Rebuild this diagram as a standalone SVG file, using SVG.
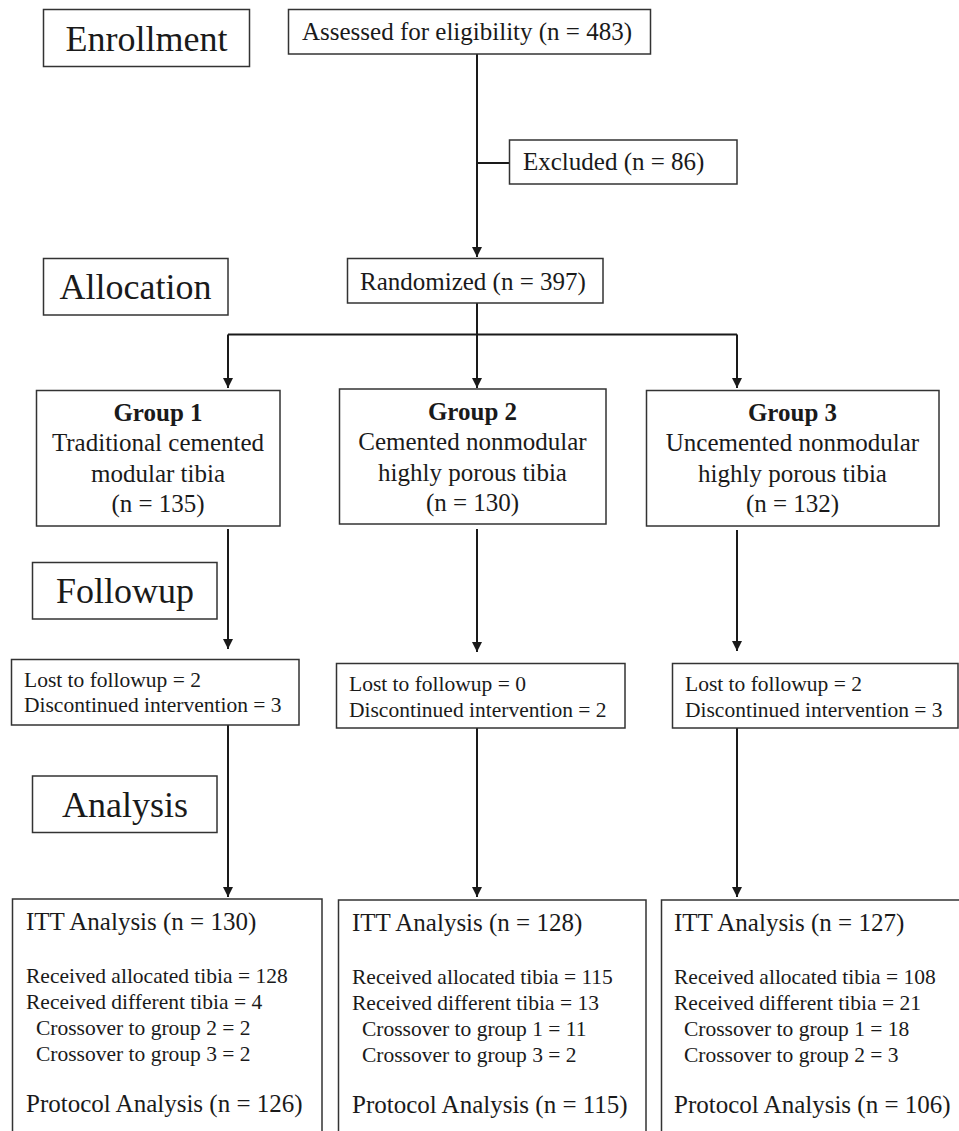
<svg xmlns="http://www.w3.org/2000/svg" width="959" height="1131" viewBox="0 0 959 1131">
<style>
.box{fill:#fff;stroke:#333;stroke-width:1.5}
.ln{fill:none;stroke:#1a1a1a;stroke-width:2}
text{font-family:"Liberation Serif","Times New Roman",serif;fill:#1a1a1a}
.big{font-size:36px}
.m{font-size:25px}
.s{font-size:21.5px}
.c{text-anchor:middle}
.b{font-weight:bold}
</style>
<defs>
<marker id="ah" markerWidth="10" markerHeight="10" refX="10" refY="5" orient="auto" markerUnits="userSpaceOnUse">
<path d="M0,0 L10,5 L0,10 Z" fill="#1a1a1a"/>
</marker>
</defs>
<rect width="959" height="1131" fill="#fff"/>
<g id="connectors">
<path class="ln" d="M477,54 V257" marker-end="url(#ah)"/>
<path class="ln" d="M477,163 H509"/>
<path class="ln" d="M477,303 V334.5"/>
<path class="ln" d="M228,334.5 H737"/>
<path class="ln" d="M228,334.5 V388" marker-end="url(#ah)"/>
<path class="ln" d="M477,334.5 V388" marker-end="url(#ah)"/>
<path class="ln" d="M737,334.5 V388" marker-end="url(#ah)"/>
<path class="ln" d="M228,529 V649" marker-end="url(#ah)"/>
<path class="ln" d="M477,529 V652" marker-end="url(#ah)"/>
<path class="ln" d="M737,530 V651" marker-end="url(#ah)"/>
<path class="ln" d="M228,725 V897" marker-end="url(#ah)"/>
<path class="ln" d="M477,728 V897" marker-end="url(#ah)"/>
<path class="ln" d="M737,728 V897" marker-end="url(#ah)"/>
</g>
<g id="enrollment"><rect class="box" x="43.5" y="9.5" width="206" height="57"/><text class="big c" x="146.5" y="51">Enrollment</text></g>
<g id="assessed"><rect class="box" x="288.5" y="9.5" width="362" height="44.5"/><text class="m" x="302" y="40">Assessed for eligibility (n = 483)</text></g>
<g id="excluded"><rect class="box" x="509.5" y="140" width="227.5" height="44"/><text class="m" x="523" y="170">Excluded (n = 86)</text></g>
<g id="allocation"><rect class="box" x="43.5" y="258.5" width="184.5" height="56.5"/><text class="big c" x="135.5" y="299">Allocation</text></g>
<g id="randomized"><rect class="box" x="347.5" y="258.5" width="255.5" height="44.5"/><text class="m" x="360" y="290">Randomized (n = 397)</text></g>
<g id="group1"><rect class="box" x="36.5" y="390.5" width="243.5" height="135.5"/>
<text class="m c b" x="158" y="421">Group 1</text>
<text class="m c" x="158" y="451">Traditional cemented</text>
<text class="m c" x="158" y="482">modular tibia</text>
<text class="m c" x="158" y="512">(n = 135)</text></g>
<g id="group2"><rect class="box" x="339.5" y="389" width="266.5" height="135"/>
<text class="m c b" x="472.5" y="420">Group 2</text>
<text class="m c" x="472.5" y="450">Cemented nonmodular</text>
<text class="m c" x="472.5" y="481">highly porous tibia</text>
<text class="m c" x="472.5" y="511">(n = 130)</text></g>
<g id="group3"><rect class="box" x="646.5" y="390.5" width="292.5" height="135.5"/>
<text class="m c b" x="792.5" y="421">Group 3</text>
<text class="m c" x="792.5" y="451">Uncemented nonmodular</text>
<text class="m c" x="792.5" y="482">highly porous tibia</text>
<text class="m c" x="792.5" y="512">(n = 132)</text></g>
<g id="followup"><rect class="box" x="32.5" y="562.5" width="184.5" height="56.5"/><text class="big c" x="125" y="603">Followup</text></g>
<g id="lost1"><rect class="box" x="11.5" y="659.5" width="287.5" height="65.5"/>
<text class="s" x="24" y="687">Lost to followup = 2</text>
<text class="s" x="24" y="712">Discontinued intervention = 3</text></g>
<g id="lost2"><rect class="box" x="336.5" y="663.5" width="288.5" height="64.5"/>
<text class="s" x="349" y="691">Lost to followup = 0</text>
<text class="s" x="349" y="717">Discontinued intervention = 2</text></g>
<g id="lost3"><rect class="box" x="672.5" y="663.5" width="285.5" height="64.5"/>
<text class="s" x="685" y="691">Lost to followup = 2</text>
<text class="s" x="685" y="717">Discontinued intervention = 3</text></g>
<g id="analysis"><rect class="box" x="32.5" y="776" width="184.5" height="56.5"/><text class="big c" x="125" y="817">Analysis</text></g>
<g id="itt1"><rect class="box" x="12.5" y="899" width="309.5" height="250"/>
<text class="m" x="26" y="930">ITT Analysis (n = 130)</text>
<text class="s" x="26" y="983">Received allocated tibia = 128</text>
<text class="s" x="26" y="1009">Received different tibia = 4</text>
<text class="s" x="36" y="1035">Crossover to group 2 = 2</text>
<text class="s" x="36" y="1061">Crossover to group 3 = 2</text>
<text class="m" x="26" y="1112">Protocol Analysis (n = 126)</text></g>
<g id="itt2"><rect class="box" x="338.5" y="900" width="307.5" height="250"/>
<text class="m" x="352" y="931">ITT Analysis (n = 128)</text>
<text class="s" x="352" y="984">Received allocated tibia = 115</text>
<text class="s" x="352" y="1010">Received different tibia = 13</text>
<text class="s" x="362" y="1036">Crossover to group 1 = 11</text>
<text class="s" x="362" y="1062">Crossover to group 3 = 2</text>
<text class="m" x="352" y="1113">Protocol Analysis (n = 115)</text></g>
<g id="itt3"><rect class="box" x="661.5" y="900" width="310" height="250"/>
<text class="m" x="674" y="931">ITT Analysis (n = 127)</text>
<text class="s" x="674" y="984">Received allocated tibia = 108</text>
<text class="s" x="674" y="1010">Received different tibia = 21</text>
<text class="s" x="684" y="1036">Crossover to group 1 = 18</text>
<text class="s" x="684" y="1062">Crossover to group 2 = 3</text>
<text class="m" x="674" y="1113">Protocol Analysis (n = 106)</text></g>
</svg>
